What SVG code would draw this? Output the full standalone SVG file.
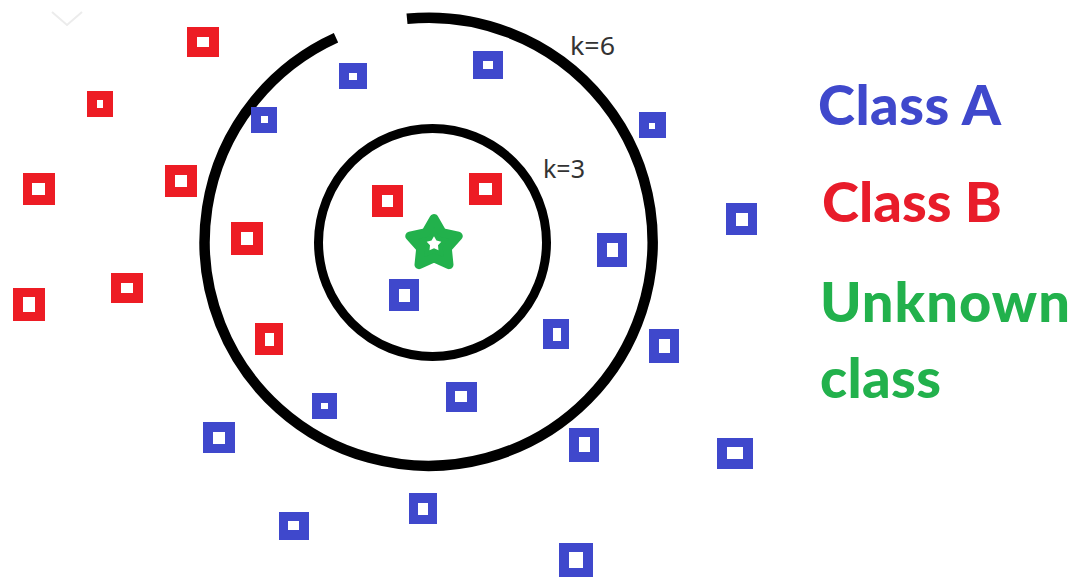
<svg xmlns="http://www.w3.org/2000/svg" xmlns:xlink="http://www.w3.org/1999/xlink" width="1076" height="577" viewBox="0 0 1076 577">
<style>
.a{fill:#3f48cc;fill-rule:evenodd}
.b{fill:#ed1c24;fill-rule:evenodd}
.ring{fill:none;stroke:#000;stroke-linecap:butt}
.k{font-family:"Noto Sans","Open Sans",sans-serif;font-size:26px;fill:#333}
.lg{font-family:Lato,"Open Sans",sans-serif;font-weight:900;font-size:56px}
</style>
<defs>
<polygon id="star" points="0,-25.5 8.2,-11.3 24.25,-7.88 13.3,4.33 14.99,20.63 0,14 -14.99,20.63 -13.3,4.33 -24.25,-7.88 -8.2,-11.3"/>
</defs>
<rect width="1076" height="577" fill="#fff"/>
<polyline points="52,12 67,25 82,12" fill="none" stroke="#ececec" stroke-width="2"/>

<g id="connectors">
<path id="ring-k6" class="ring" stroke-width="10.5" d="M 407 18.8 A 224 224 0 1 1 336 37.8"/>
<circle id="ring-k3" class="ring" stroke-width="9" cx="432.5" cy="242.5" r="114"/>
</g>

<g id="labels">
<text class="k" x="570" y="55" textLength="45" lengthAdjust="spacingAndGlyphs">k=6</text>
<text class="k" x="543" y="178" textLength="42" lengthAdjust="spacingAndGlyphs">k=3</text>
</g>

<g id="classB">
<g id="r1"><path class="b" d="M187 27H219V57H187Z M197 37H209V47H197Z"/></g>
<g id="r2"><path class="b" d="M87 91H113V117H87Z M97 100H103V108H97Z"/></g>
<g id="r3"><path class="b" d="M23 173H55V205H23Z M32 183H45V195H32Z"/></g>
<g id="r4"><path class="b" d="M165 165H197V197H165Z M175 175H187V187H175Z"/></g>
<g id="r5"><path class="b" d="M231 222H263V255H231Z M241 232H253V245H241Z"/></g>
<g id="r6"><path class="b" d="M13 288H45V321H13Z M23 297H35V312H23Z"/></g>
<g id="r7"><path class="b" d="M111 273H143V303H111Z M121 283H133V293H121Z"/></g>
<g id="r8"><path class="b" d="M255 323H283V355H255Z M265 333H274V346H265Z"/></g>
<g id="r9"><path class="b" d="M372 185H403V217H372Z M382 195H393V207H382Z"/></g>
<g id="r10"><path class="b" d="M469 173H502V205H469Z M479 183H492V195H479Z"/></g>
</g>

<g id="classA">
<g id="b1"><path class="a" d="M339 63H367V89H339Z M349 73H357V80H349Z"/></g>
<g id="b2"><path class="a" d="M473 51H503V79H473Z M483 61H493V69H483Z"/></g>
<g id="b3"><path class="a" d="M251 107H277V133H251Z M261 116H268V123H261Z"/></g>
<g id="b4"><path class="a" d="M639 112H666V138H639Z M649 123H655V129H649Z"/></g>
<g id="b5"><path class="a" d="M726 203H757V235H726Z M736 213H748V226H736Z"/></g>
<g id="b6"><path class="a" d="M597 233H627V267H597Z M607 243H618V257H607Z"/></g>
<g id="b7"><path class="a" d="M389 279H419V311H389Z M399 289H410V302H399Z"/></g>
<g id="b8"><path class="a" d="M543 319H569V349H543Z M553 328H561V341H553Z"/></g>
<g id="b9"><path class="a" d="M649 329H679V363H649Z M659 339H670V353H659Z"/></g>
<g id="b10"><path class="a" d="M446 382H477V412H446Z M455 391H467V402H455Z"/></g>
<g id="b11"><path class="a" d="M312 393H337V419H312Z M321 403H328V409H321Z"/></g>
<g id="b12"><path class="a" d="M203 422H235V453H203Z M213 432H225V444H213Z"/></g>
<g id="b13"><path class="a" d="M569 428H599V462H569Z M579 437H590V452H579Z"/></g>
<g id="b14"><path class="a" d="M717 438H753V469H717Z M727 447H743V459H727Z"/></g>
<g id="b15"><path class="a" d="M409 493H437V524H409Z M418 503H428V515H418Z"/></g>
<g id="b16"><path class="a" d="M279 512H309V540H279Z M288 521H299V530H288Z"/></g>
<g id="b17"><path class="a" d="M559 543H593V578H559Z M569 552H583V568H569Z"/></g>
</g>

<g id="unknown">
<use xlink:href="#star" href="#star" transform="translate(434,244)" fill="#22b14c" stroke="#22b14c" stroke-width="9" stroke-linejoin="round"/>
<use xlink:href="#star" href="#star" transform="translate(434,244) scale(0.3)" fill="#fff"/>
</g>

<g id="legend">
<text class="lg" x="818" y="125" fill="#3f48cc" textLength="183">Class A</text>
<text class="lg" x="822" y="222" fill="#e81c2a" textLength="180">Class B</text>
<text class="lg" x="820" y="322" fill="#22b14c" textLength="250">Unknown</text>
<text class="lg" x="820" y="398" fill="#22b14c" textLength="121">class</text>
</g>
</svg>
